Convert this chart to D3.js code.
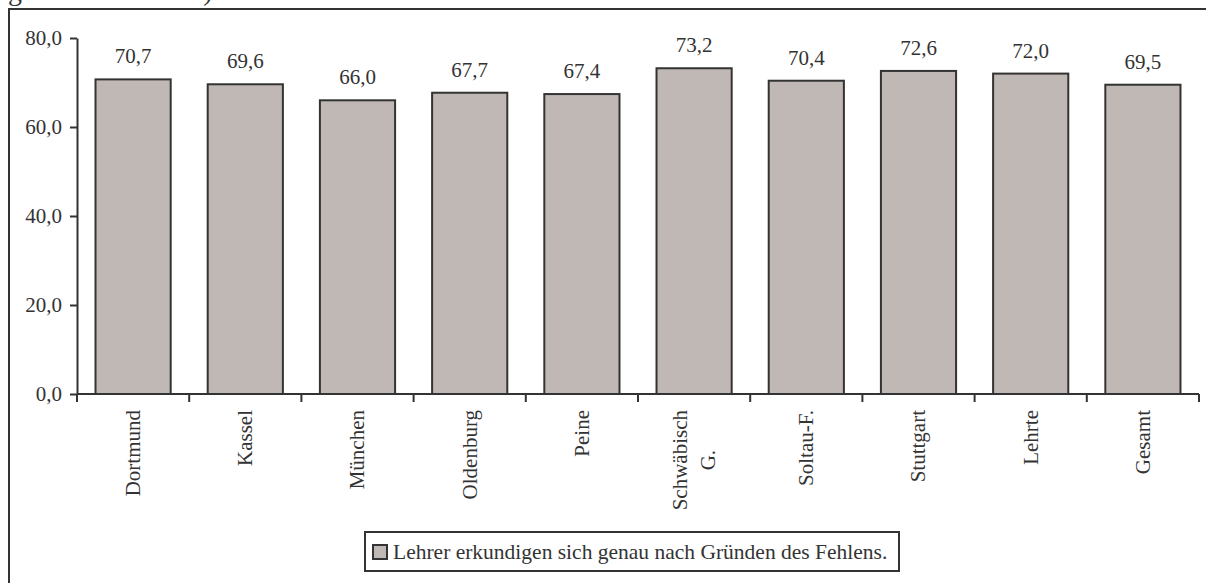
<!DOCTYPE html>
<html>
<head>
<meta charset="utf-8">
<script src="https://cdn.jsdelivr.net/npm/d3@7"></script>
<style>
  html, body { margin: 0; padding: 0; background: #fff; overflow: hidden; }
  svg { display: block; }
  text { font-family: "Liberation Serif", "Times New Roman", serif; fill: #333; }
</style>
</head>
<body>
<svg id="chart" width="1206" height="583"></svg>
<script>
const categories = ["Dortmund", "Kassel", "München", "Oldenburg", "Peine", "Schwäbisch G.", "Soltau-F.", "Stuttgart", "Lehrte", "Gesamt"];
const values = [70.7, 69.6, 66.0, 67.7, 67.4, 73.2, 70.4, 72.6, 72.0, 69.5];
const yTicks = [0, 20, 40, 60, 80];
const seriesName = "Lehrer erkundigen sich genau nach Gründen des Fehlens.";
const titleText = "gewichtete Daten)";

const svg = d3.select("#chart");
const ink = "#333";
const barFill = "#c0b8b5";
const fmt = v => d3.format(".1f")(v).replace(".", ",");

// title, cut off at the very top as in the reference
svg.append("text").attr("x", 8).attr("y", 0).attr("font-size", 28).text(titleText);

// outer frame (extends beyond the viewport on right / bottom)
svg.append("rect").attr("x", 9).attr("y", 9).attr("width", 1300).attr("height", 700)
  .attr("fill", "none").attr("stroke", ink).attr("stroke-width", 2);

const x = d3.scaleBand().domain(categories).range([77, 1199]).paddingInner(0.33).paddingOuter(0.165);
const y = d3.scaleLinear().domain([0, 80]).range([394, 38]);

// bars
svg.append("g").selectAll("rect").data(values).join("rect")
  .attr("x", (d, i) => x(categories[i]))
  .attr("y", d => y(d))
  .attr("width", x.bandwidth())
  .attr("height", d => y(0) - y(d))
  .attr("fill", barFill).attr("stroke", ink).attr("stroke-width", 2);

// value labels
svg.append("g").selectAll("text").data(values).join("text")
  .attr("x", (d, i) => x(categories[i]) + x.bandwidth() / 2)
  .attr("y", d => y(d) - 16)
  .attr("text-anchor", "middle").attr("font-size", 21)
  .text(d => fmt(d));

// y axis
const yAxis = svg.append("g").attr("transform", "translate(77,0)")
  .call(d3.axisLeft(y).tickValues(yTicks).tickFormat(fmt).tickSize(7).tickSizeOuter(0).tickPadding(8));
yAxis.select(".domain").attr("stroke", ink).attr("stroke-width", 2);
yAxis.selectAll(".tick line").attr("stroke", ink).attr("stroke-width", 2);
yAxis.selectAll(".tick text").attr("font-size", 21).attr("font-family", "Liberation Serif, serif").attr("fill", ink);

// x axis baseline and boundary ticks
const step = x.step();
const x0 = 77;
svg.append("line").attr("x1", x0).attr("x2", 1199).attr("y1", y(0)).attr("y2", y(0))
  .attr("stroke", ink).attr("stroke-width", 2);
svg.append("g").selectAll("line").data(d3.range(categories.length + 1)).join("line")
  .attr("x1", i => x0 + i * step).attr("x2", i => x0 + i * step)
  .attr("y1", y(0)).attr("y2", y(0) + 8)
  .attr("stroke", ink).attr("stroke-width", 2);

// rotated category labels
const labelTop = 410;
const lineGap = 28;
categories.forEach(c => {
  const lines = c.split(" ");
  const cx = x(c) + x.bandwidth() / 2;
  const g = svg.append("g");
  const texts = lines.map(l => g.append("text").attr("font-size", 21).attr("text-anchor", "middle").text(l));
  const maxLen = d3.max(texts, t => t.node().getComputedTextLength());
  const cy = labelTop + maxLen / 2;
  const n = lines.length;
  texts.forEach((t, k) => {
    const off = (k - (n - 1) / 2) * lineGap;
    t.attr("transform", `translate(${cx + off},${cy}) rotate(-90)`).attr("dy", "0.33em");
  });
});

// legend
const lg = svg.append("g");
lg.append("rect").attr("x", 365).attr("y", 532).attr("width", 534).attr("height", 39)
  .attr("fill", "#fff").attr("stroke", ink).attr("stroke-width", 2);
lg.append("rect").attr("x", 373).attr("y", 545).attr("width", 14).attr("height", 14)
  .attr("fill", barFill).attr("stroke", ink).attr("stroke-width", 2);
lg.append("text").attr("x", 393).attr("y", 559).attr("font-size", 21.5).text(seriesName);
</script>
</body>
</html>
